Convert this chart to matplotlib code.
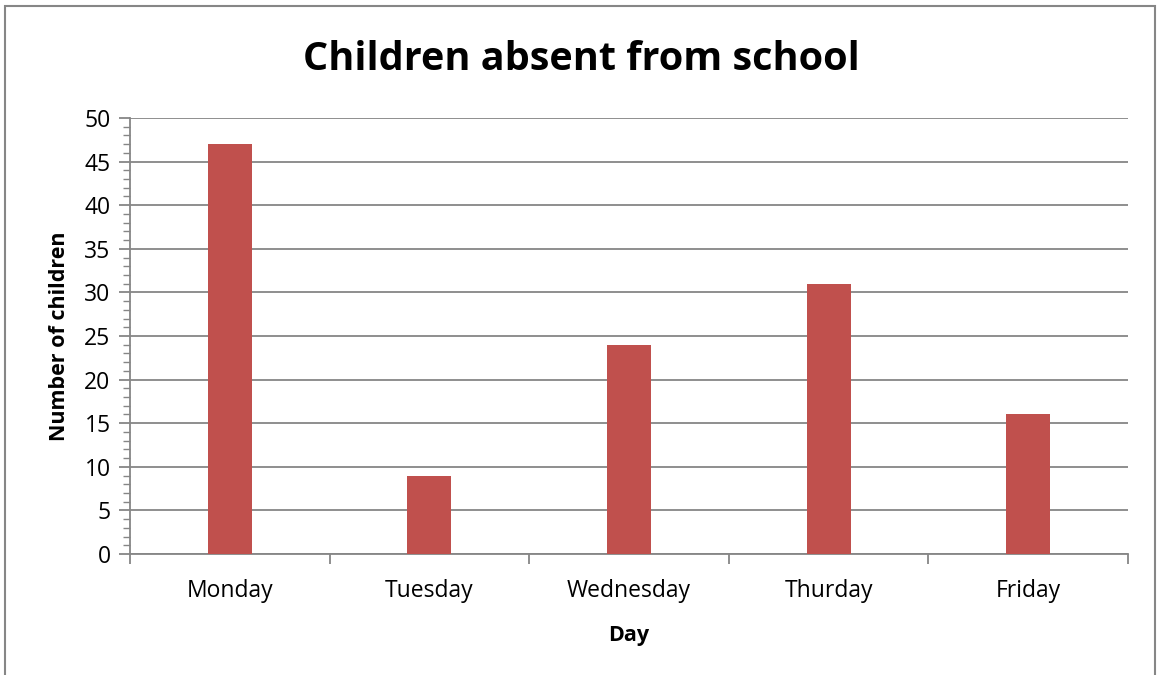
import numpy as np
import matplotlib.pyplot as plt
from matplotlib.patches import Rectangle
from matplotlib.ticker import MultipleLocator

days = ['Monday', 'Tuesday', 'Wednesday', 'Thurday', 'Friday']
absent = [47, 9, 24, 31, 16]

plt.rcParams['font.family'] = ['Open Sans', 'DejaVu Sans']

W, H = 1157, 675
fig = plt.figure(figsize=(W / 100, H / 100), dpi=100)
ax = fig.add_axes([130 / W, 1 - 554 / H, 998 / W, 436 / H])

grey = '#868686'
x = np.arange(len(days))
ax.bar(x, absent, width=0.22, color='#C0504D', zorder=3)

ax.set_xlim(-0.5, len(days) - 0.5)
ax.set_ylim(0, 50)
ax.yaxis.set_major_locator(MultipleLocator(5))
ax.yaxis.set_minor_locator(MultipleLocator(1))
ax.grid(axis='y', which='major', color=grey, linewidth=1.3, zorder=0)

# category labels centred, tick marks on the boundaries
ax.set_xticks(np.arange(-0.5, len(days)), [''] * (len(days) + 1))
ax.set_xticks(x, days, minor=True)
ax.tick_params(axis='x', which='major', length=7, width=1.3, color=grey)
ax.tick_params(axis='x', which='minor', length=0, pad=18, labelsize=16.5)
ax.tick_params(axis='y', which='major', length=8, width=1.3, color=grey, labelsize=16.5, pad=6)
ax.tick_params(axis='y', which='minor', length=5, width=1.0, color=grey)

for s in ['top', 'right']:
    ax.spines[s].set_visible(False)
for s in ['left', 'bottom']:
    ax.spines[s].set_color(grey)
    ax.spines[s].set_linewidth(1.3)

ax.set_xlabel('Day', fontsize=15.5, fontweight='bold', labelpad=16)
ax.set_ylabel('Number of children', fontsize=15.5, fontweight='bold', labelpad=10)
fig.text(581 / W, 1 - 60 / H, 'Children absent from school', fontsize=28.5,
         fontweight='bold', ha='center', va='center')

# outer chart border
fig.patches.append(Rectangle((5 / W, -0.05), 1150 / W, 1.05 - 6 / H,
                             transform=fig.transFigure, fill=False,
                             edgecolor=grey, linewidth=1.5))

fig.savefig('out.png', dpi=100)
